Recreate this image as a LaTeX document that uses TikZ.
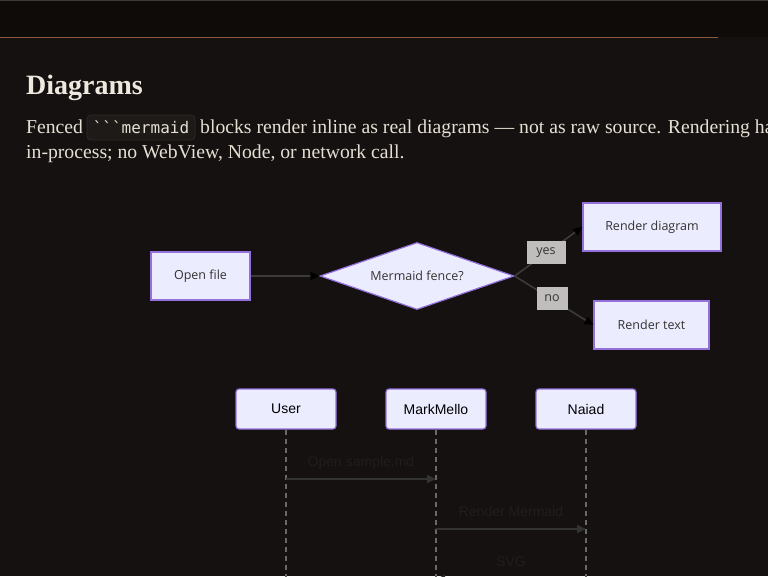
\documentclass[tikz,border=0pt]{standalone}
\usepackage{fontspec}
\setmainfont{Liberation Serif}
\setsansfont{Liberation Sans}
\setmonofont{DejaVu Sans Mono}
\newfontfamily\flowfont{Open Sans}
\usepackage{tikz}
\usetikzlibrary{arrows.meta, positioning, shapes.geometric}
\definecolor{pagebg}{HTML}{141110}
\definecolor{barbg}{HTML}{0E0B09}
\definecolor{barline}{HTML}{8C5A3A}
\definecolor{topline}{HTML}{3A3A3A}
\definecolor{headtext}{HTML}{EEE8DF}
\definecolor{bodytext}{HTML}{E6DFD3}
\definecolor{codebg}{HTML}{1D1A18}
\definecolor{codeline}{HTML}{2E2A27}
\definecolor{mfill}{HTML}{ECECFF}
\definecolor{mborder}{HTML}{9370DB}
\definecolor{mtext}{HTML}{333333}
\definecolor{mlabel}{HTML}{BFBEBD}
\definecolor{mline}{HTML}{3B3B3B}
\definecolor{lifegray}{HTML}{6B6868}
\definecolor{msgtext}{HTML}{201D1C}
\tikzset{
  flowbox/.style={draw=mborder, fill=mfill, line width=1.2pt, text=mtext,
                  minimum height=48pt, font=\flowfont\fontsize{12.5}{14}\selectfont, inner sep=0pt},
  decision/.style={diamond, draw=mborder, fill=mfill, line width=1.2pt, text=mtext,
                   shape aspect=2.9, minimum width=194pt, minimum height=67pt, inner sep=0pt,
                   font=\flowfont\fontsize{12.5}{14}\selectfont},
  elabel/.style={fill=mlabel, text=mtext, inner sep=0pt, minimum height=23pt,
                 font=\flowfont\fontsize{12.5}{14}\selectfont},
  flowarr/.style={line width=1.6pt, mline, -{Triangle[length=9pt, width=8pt, color=black]}},
  actor/.style={draw=mborder, fill=mfill, line width=1.2pt, rounded corners=3pt,
                minimum width=100pt, minimum height=40pt, inner sep=0pt,
                font=\sffamily\fontsize{14}{16}\selectfont, text=black},
  lifeline/.style={lifegray, line width=1.8pt, dash pattern=on 5pt off 4pt},
  msg/.style={mtext, line width=1.5pt, -{Triangle[length=9pt, width=8pt]}},
  msglabel/.style={text=msgtext, inner sep=0pt, text height=10pt, text depth=3pt,
                   font=\sffamily\fontsize{14}{16}\selectfont},
}

\begin{document}
\begin{tikzpicture}[x=1pt, y=-1pt]
  \useasboundingbox (0,0) rectangle (768,576);
  \clip (0,0) rectangle (768,576);

  %% Page and top bar
  \fill[pagebg] (0,0) rectangle (768,576);
  \fill[barbg] (0,0) rectangle (768,37);
  \draw[topline, line width=1.5pt] (0,0.5) -- (768,0.5);
  \draw[barline, line width=1pt] (0,37) -- (718,37);

  %% Heading and paragraph
  \node[anchor=base west, inner sep=0pt, text=headtext,
        font=\bfseries\fontsize{28}{32}\selectfont] (title) at (26,94) {Diagrams};
  \node[anchor=base west, inner sep=0pt, text=bodytext,
        font=\fontsize{19.7}{25}\selectfont] (fenced) at (26,133) {Fenced};
  \node[draw=codeline, fill=codebg, rounded corners=4pt, line width=0.8pt,
        minimum width=108pt, minimum height=25pt, inner sep=0pt, text=bodytext,
        font=\ttfamily\fontsize{16}{18}\selectfont] (code) at (141,127.5) {```mermaid};
  \node[anchor=base west, inner sep=0pt, text=bodytext,
        font=\fontsize{19.7}{25}\selectfont] (line1) at (200,133)
        {blocks render inline as real diagrams — not as raw source. Rendering ha};
  \node[anchor=base west, inner sep=0pt, text=bodytext,
        font=\fontsize{19.7}{25}\selectfont] (line2) at (26,158)
        {in-process; no WebView, Node, or network call.};

  %% Flowchart
  \node[flowbox, minimum width=99pt] (open) at (200.5,276) {Open file};
  \node[decision] (fence) at (417,276) {Mermaid fence?};
  \node[flowbox, minimum width=138pt] (rdiag) at (652,227) {Render diagram};
  \node[flowbox, minimum width=115pt] (rtext) at (651.5,325) {Render text};

  \draw[flowarr] (open) -- (fence);
  \draw[flowarr] (fence.east) -- (rdiag.west);
  \draw[flowarr] (fence.east) -- (rtext.west);
  \node[elabel, minimum width=39pt] (yes) at (546,252.5) {yes};
  \node[elabel, minimum width=31pt] (no) at (552,298.5) {no};

  %% Sequence diagram
  \node[actor] (user) at (286,409) {User};
  \node[actor] (mello) at (436,409) {MarkMello};
  \node[actor] (naiad) at (586,409) {Naiad};
  \foreach \a in {user, mello, naiad}{
    \coordinate (\a end) at (\a |- 0,590);
    \draw[lifeline] (\a.south) -- (\a end);
  }

  \draw[msg] (user |- 0,479) -- node[msglabel, midway, above=9pt] {Open sample.md} (mello |- 0,479);
  \draw[msg] (mello |- 0,529) -- node[msglabel, midway, above=9pt] {Render Mermaid} (naiad |- 0,529);
  \draw[msg] (naiad |- 0,579) -- node[msglabel, midway, above=9pt] {SVG} (mello |- 0,579);
\end{tikzpicture}
\end{document}
